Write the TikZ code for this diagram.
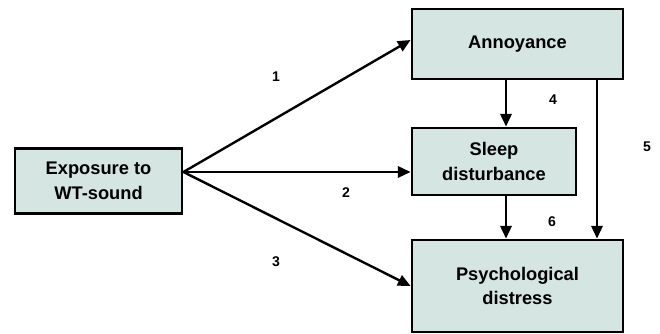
\documentclass[tikz,border=0pt]{standalone}
\usepackage{fontspec}
\setmainfont{Liberation Sans}
\usetikzlibrary{arrows.meta,positioning}
\definecolor{boxfill}{RGB}{212,229,226}

\begin{document}
\begin{tikzpicture}
		[x=0.025cm, y=-0.025cm,
		block/.style ={rectangle, draw=black, line width=2pt, fill=boxfill, align=center, inner sep=0pt,
		font=\fontsize{13}{17.5}\selectfont\bfseries},
		line/.style ={line width=1.7pt, -{Triangle[length=9pt,width=8pt]}},
		num/.style = {font=\fontsize{10}{12}\selectfont\bfseries},
		]
		\useasboundingbox (0,0) rectangle (660,334);

		\draw (98.5,181) node[block, minimum width=4.175cm, minimum height=1.625cm] (Exp) {Exposure to\\WT-sound};
		\draw (517.5,44) node[block, minimum width=5.275cm, minimum height=1.75cm] (Ann) {Annoyance};
		\draw (494,161.5) node[block, minimum width=4.1cm, minimum height=1.675cm] (Slp) {Sleep\\disturbance};
		\draw (517.5,286) node[block, minimum width=5.275cm, minimum height=2.3cm] (Psy) {Psychological\\distress};

		\coordinate (src) at ([yshift=0.225cm]Exp.east);
		\coordinate (colA) at (506,0);
		\coordinate (colB) at (597,0);

		\draw (276,77) node[num] (L1) {1};
		\draw (346,193) node[num] (L2) {2};
		\draw (276,262) node[num] (L3) {3};
		\draw (553,100) node[num] (L4) {4};
		\draw (647,147) node[num] (L5) {5};
		\draw (552,222) node[num] (L6) {6};

		\path[line]
		(src) edge ([yshift=0.1cm]Ann.west)
		(src) edge (Slp.west |- src)
		(src) edge (Psy.west)
		(Ann.south -| colA) edge (Slp.north -| colA)
		(Slp.south -| colA) edge (Psy.north -| colA)
		(Ann.south -| colB) edge (Psy.north -| colB);
	\end{tikzpicture}
\end{document}
